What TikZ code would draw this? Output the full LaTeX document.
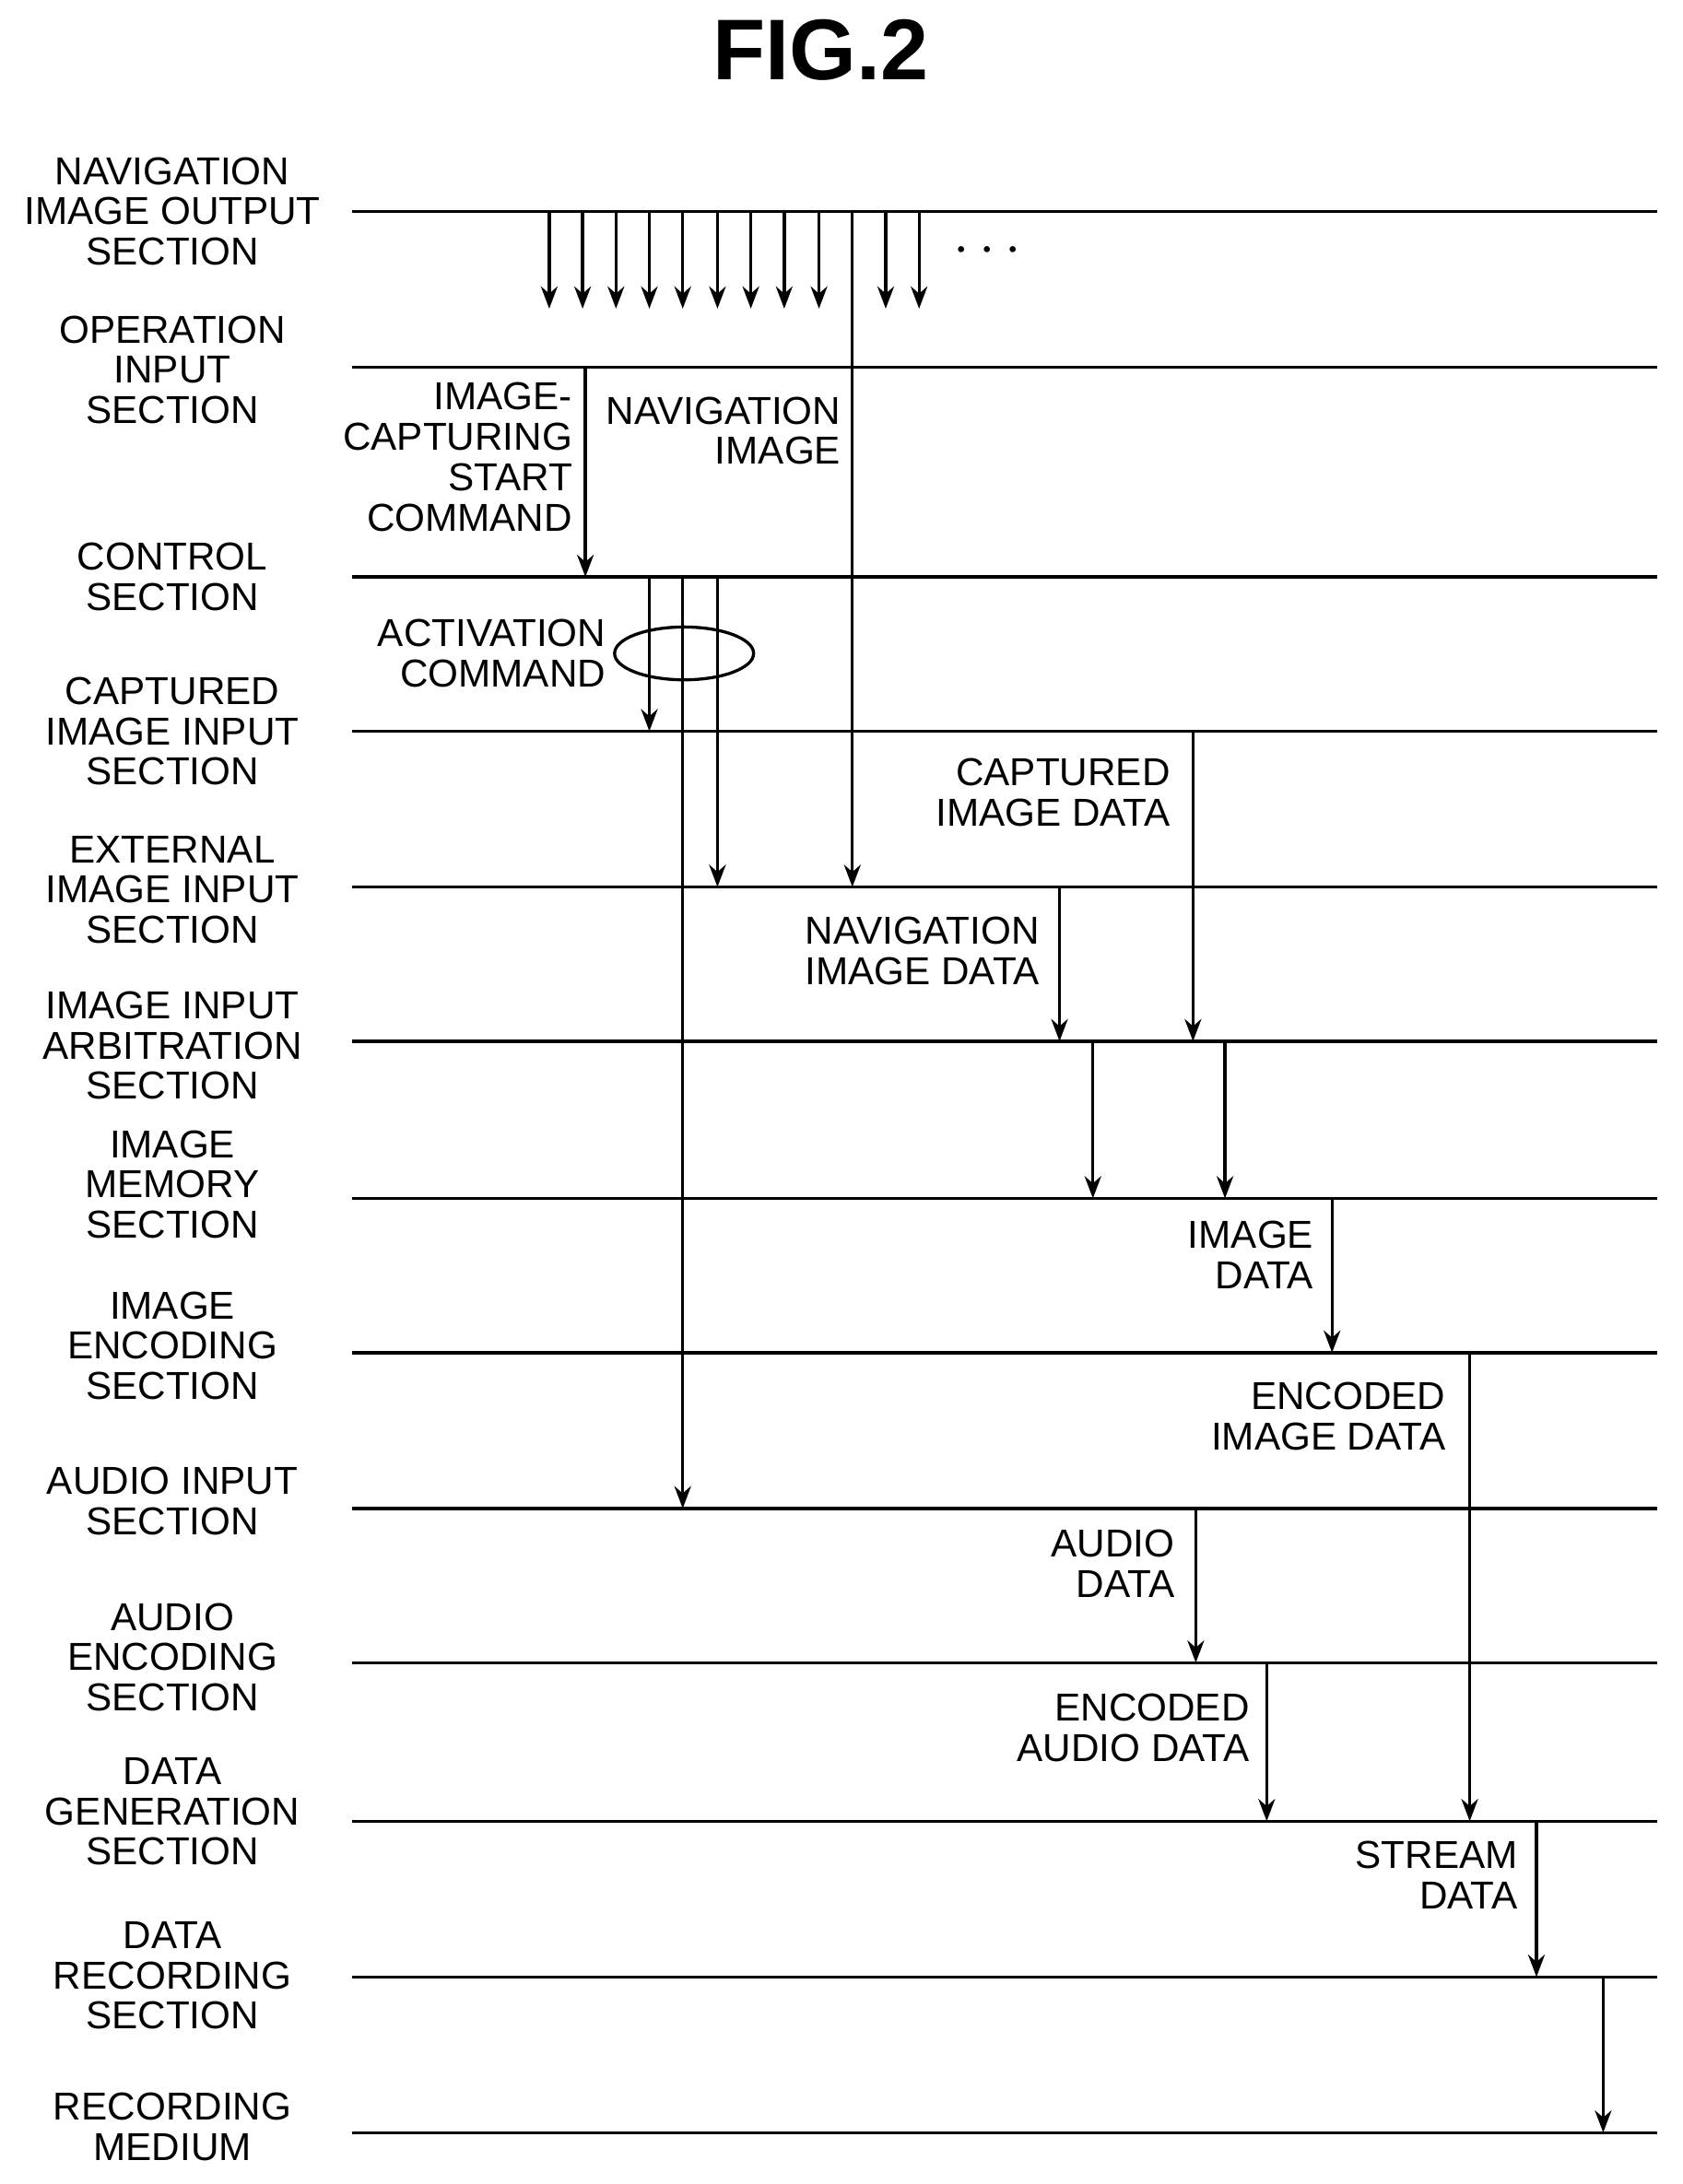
\documentclass[tikz,border=0pt]{standalone}
\usepackage{fontspec}
\setmainfont{Liberation Sans}
\usetikzlibrary{arrows.meta,shapes.geometric}
\begin{document}
\begin{tikzpicture}[x=0.5pt,y=-0.5pt,
  lane/.style={line width=1.1pt},
  sig/.style={line width=1.1pt,-{Stealth[length=8pt,width=6pt]}},
  lbl/.style={font=\fontsize{14}{14.5}\selectfont,align=center,inner sep=0pt},
  rlbl/.style={font=\fontsize{14}{14.5}\selectfont,align=right,inner sep=0pt,anchor=north east}]
\useasboundingbox (0,0) rectangle (1210,1571);
\node[font=\fontsize{31}{31}\selectfont\bfseries] (title) at (590,36) {FIG.2};
% lanes
\foreach \n/\y in {a/152,b/264,c/415,d/526,e/638,f/749,g/862,h/973,i/1085,j/1196,k/1310,l/1422,m/1534}{
 \coordinate (\n0) at (253,\y);
 \coordinate (\n1) at (1192,\y);
 \draw[lane] (\n0) -- (\n1);
}
\foreach \n/\y/\t in {a/152/{NAVIGATION\\IMAGE OUTPUT\\SECTION},
 b/266/{OPERATION\\INPUT\\SECTION},
 c/415/{CONTROL\\SECTION},
 d/526/{CAPTURED\\IMAGE INPUT\\SECTION},
 e/640/{EXTERNAL\\IMAGE INPUT\\SECTION},
 f/752/{IMAGE INPUT\\ARBITRATION\\SECTION},
 g/852/{IMAGE\\MEMORY\\SECTION},
 h/968/{IMAGE\\ENCODING\\SECTION},
 i/1080/{AUDIO INPUT\\SECTION},
 j/1192/{AUDIO\\ENCODING\\SECTION},
 k/1303/{DATA\\GENERATION\\SECTION},
 l/1421/{DATA\\RECORDING\\SECTION},
 m/1530/{RECORDING\\MEDIUM}}{
 \node[lbl] (L\n) at (124,\y) {\t};
}
% short navigation arrows
\foreach \x [count=\i] in {395,419,443,467,491,516,540,564,589,637,661}{
 \coordinate (s\i) at (\x,152);
 \coordinate (t\i) at (\x,222);
 \draw[sig] (s\i) -- (t\i);
}
\node[font=\fontsize{20}{20}\selectfont\bfseries] (dots) at (710,181) {$\cdots$};
% long arrows
\foreach \x/\a/\b [count=\i] in {613/152/638, 421/264/415, 467/415/526, 491/415/1085, 516/415/638,
 858/526/749, 762/638/749, 786/749/862, 881/749/862, 958/862/973, 1057/973/1310,
 860/1085/1196, 911/1196/1310, 1105/1310/1422, 1153/1422/1534}{
 \coordinate (p\i) at (\x,\a);
 \coordinate (q\i) at (\x,\b);
 \draw[sig] (p\i) -- (q\i);
}
\node[draw,line width=1.1pt,ellipse,minimum width=50pt,minimum height=19pt,inner sep=0pt] (ell) at (492,470) {};
% labels
\node[rlbl] (n1) at (412,275) {IMAGE-\\CAPTURING\\START\\COMMAND};
\node[rlbl] (n2) at (605,285) {NAVIGATION\\IMAGE};
\node[rlbl] (n3) at (436,445) {ACTIVATION\\COMMAND};
\node[rlbl] (n4) at (842,545) {CAPTURED\\IMAGE DATA};
\node[rlbl] (n5) at (748,659) {NAVIGATION\\IMAGE DATA};
\node[rlbl] (n6) at (945,878) {IMAGE\\DATA};
\node[rlbl] (n7) at (1040,994) {ENCODED\\IMAGE DATA};
\node[rlbl] (n8) at (845,1100) {AUDIO\\DATA};
\node[rlbl] (n9) at (899,1218) {ENCODED\\AUDIO DATA};
\node[rlbl] (n10) at (1092,1324) {STREAM\\DATA};
\end{tikzpicture}
\end{document}
